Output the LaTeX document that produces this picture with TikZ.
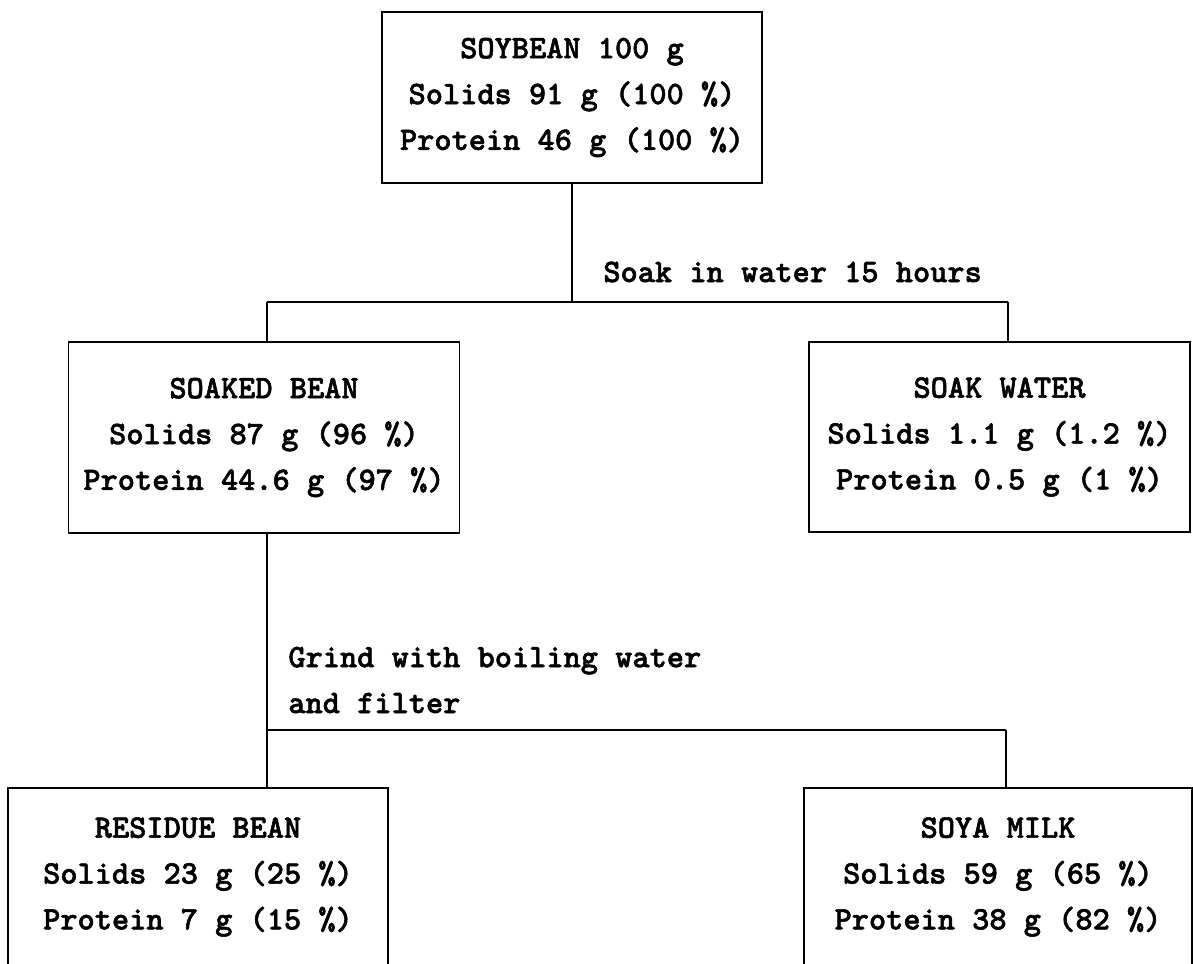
\documentclass[tikz,border=0pt]{standalone}
\usepackage{fontspec}
\newfontfamily\typewriter[FakeBold=1.6]{lmmonolt10-bold.otf}

\begin{document}
\begin{tikzpicture}[x=0.025cm,y=-0.025cm,line width=1pt,
  font=\typewriter\fontsize{23.3}{32.6}\selectfont,
  box/.style={draw,align=center,inner sep=0pt}]
\useasboundingbox (0,0) rectangle (1193,963);
\clip (0,0) rectangle (1193,963);
% boxes
\node[box,minimum width=9.5cm,minimum height=4.275cm] (soybean) at (572,97.5) {SOYBEAN 100 g\\Solids 91 g (100 \%)\\Protein 46 g (100 \%)};
\node[box,minimum width=9.775cm,minimum height=4.775cm] (soaked) at (264,437.5) {SOAKED BEAN\\Solids 87 g (96 \%)\\Protein 44.6 g (97 \%)};
\node[box,minimum width=9.525cm,minimum height=4.75cm] (soakwater) at (999.5,437) {SOAK WATER\\Solids 1.1 g (1.2 \%)\\Protein 0.5 g (1 \%)};
\node[box,minimum width=9.5cm,minimum height=4.45cm] (residue) at (198,877) {RESIDUE BEAN\\Solids 23 g (25 \%)\\Protein 7 g (15 \%)};
\node[box,minimum width=9.7cm,minimum height=4.45cm] (soyamilk) at (998,877) {SOYA MILK\\Solids 59 g (65 \%)\\Protein 38 g (82 \%)};
% soaking
\coordinate (soakL) at (267,302);
\coordinate (soakR) at (1008,302);
\draw (soybean.south) -- (soybean.south |- soakL);
\draw (soakL) -- (soakR);
\draw (soakL) -- (soakL |- soaked.north);
\draw (soakR) -- (soakR |- soakwater.north);
\node[anchor=west] (soaklabel) at (598,272) {Soak in water 15 hours};
% grinding
\coordinate (grindL) at (267,730);
\coordinate (grindR) at (1006,730);
\draw (grindL |- soaked.south) -- (grindL);
\draw (grindL) -- (grindR);
\draw (grindL) -- (grindL |- residue.north);
\draw (grindR) -- (grindR |- soyamilk.north);
\node[anchor=west,align=left] (grindlabel) at (283,680) {Grind with boiling water\\and filter};
\end{tikzpicture}
\end{document}
